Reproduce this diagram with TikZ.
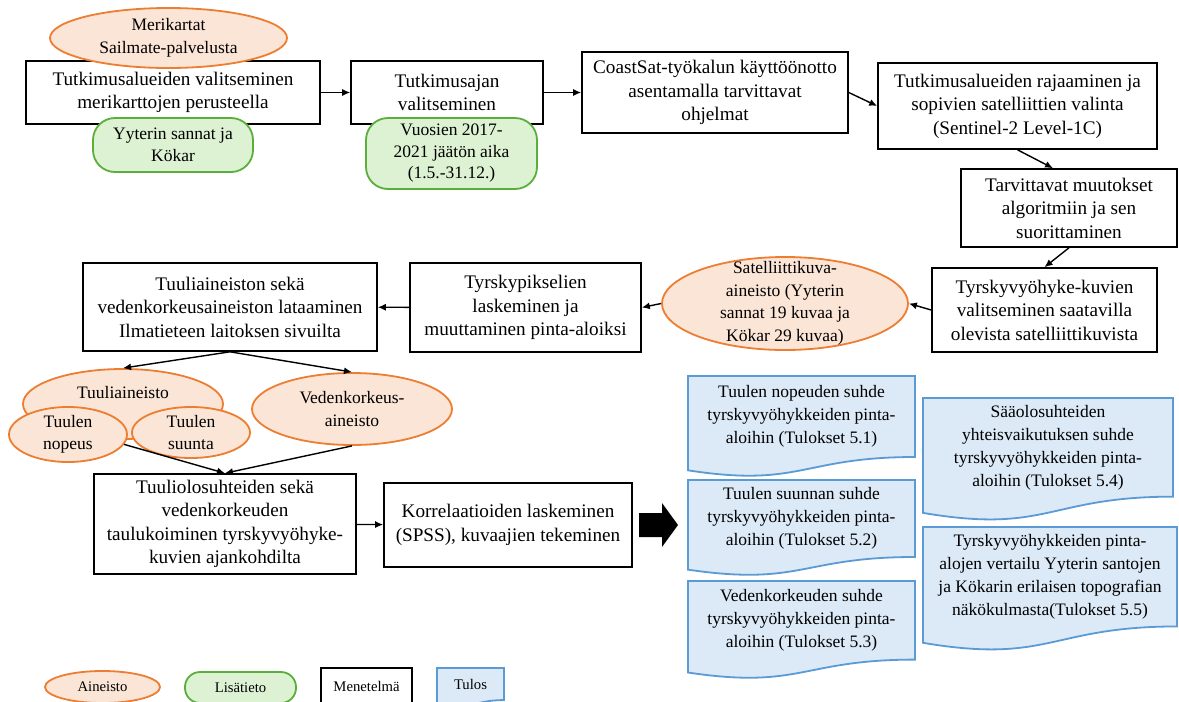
\documentclass[tikz,border=0pt]{standalone}
\usepackage{fontspec}
\setmainfont{Liberation Serif}
\usetikzlibrary{arrows.meta,positioning,shapes.geometric}

\definecolor{aineistoreuna}{HTML}{ED7D31}
\definecolor{aineistotausta}{HTML}{FBE5D6}
\definecolor{lisareuna}{HTML}{5AAE3A}
\definecolor{lisatausta}{HTML}{DCF2D3}
\definecolor{tulosreuna}{HTML}{5B9BD5}
\definecolor{tulostausta}{HTML}{DCE9F7}

% tulos-dokumentti: [tyyli], nimi, vasen x, yla y, leveys, korkeus, teksti
\newcommand{\tulosdoc}[7][]{%
  \draw[tulos] (#3,#4) -- ({#3+#5},#4) -- ({#3+#5},{#4+0.802*#6})
    .. controls ({#3+0.5*#5},{#4+0.802*#6}) and ({#3+0.5*#5},{#4+1.107*#6}) .. (#3,{#4+0.934*#6}) -- cycle;
  \node[tulosteksti,#1] (#2) at ({#3+0.5*#5},{#4+0.401*#6}) {#7};
}

\begin{document}
\begin{tikzpicture}[x=1pt, y=-1pt,
  menetelma/.style={draw, line width=1.6pt, fill=white, align=center, inner sep=0pt, font=\fontsize{19.2}{23.5}\selectfont},
  aineisto/.style={ellipse, draw=aineistoreuna, fill=aineistotausta, line width=1.8pt, align=center, inner sep=-15pt, font=\fontsize{17.5}{22.5}\selectfont},
  lisatieto/.style={draw=lisareuna, fill=lisatausta, line width=1.8pt, rounded corners=22pt, align=center, inner sep=0pt, font=\fontsize{17.5}{21.5}\selectfont},
  tulos/.style={draw=tulosreuna, fill=tulostausta, line width=1.8pt},
  tulosteksti/.style={align=center, font=\fontsize{17.5}{23}\selectfont},
  selite/.style={font=\fontsize{14.7}{17}\selectfont},
  arrow/.style={-{Latex[length=8pt,width=7pt]}, line width=1.4pt}
]
\useasboundingbox (0,0) rectangle (1179,702);

% ylarivi
\node[menetelma, minimum width=294pt, minimum height=63pt] (valinta) at (173,92.5) {Tutkimusalueiden valitseminen\\merikarttojen perusteella};
\node[aineisto, minimum width=237pt, minimum height=60pt] (merikartat) at (168.5,38) {Merikartat\\Sailmate-palvelusta};
\node[lisatieto, minimum width=160pt, minimum height=54pt] (alueet) at (173,145) {Yyterin sannat ja\\Kökar};
\node[menetelma, minimum width=192pt, minimum height=63pt] (aika) at (447,92.5) {Tutkimusajan\\valitseminen};
\node[lisatieto, minimum width=171pt, minimum height=71pt] (vuodet) at (451.5,153.5) {Vuosien 2017-\\2021 jäätön aika\\(1.5.-31.12.)};
\node[menetelma, minimum width=266pt, minimum height=81pt] (coastsat) at (715,92.5) {CoastSat-työkalun käyttöönotto\\asentamalla tarvittavat\\ohjelmat};
\node[menetelma, minimum width=279pt, minimum height=86pt] (rajaus) at (1017.5,106) {Tutkimusalueiden rajaaminen ja\\sopivien satelliittien valinta\\(Sentinel-2 Level-1C)};
\node[menetelma, minimum width=216pt, minimum height=78pt] (muutokset) at (1069,208) {Tarvittavat muutokset\\algoritmiin ja sen\\suorittaminen};
\node[menetelma, minimum width=225pt, minimum height=84pt] (kuvat) at (1044.5,310) {Tyrskyvyöhyke-kuvien\\valitseminen saatavilla\\olevista satelliittikuvista};

% keskirivi
\node[aineisto, minimum width=246pt, minimum height=93pt] (satelliitti) at (785,303.5) {Satelliittikuva-\\aineisto (Yyterin\\sannat 19 kuvaa ja\\Kökar 29 kuvaa)};
\node[menetelma, minimum width=231pt, minimum height=89pt] (pikselit) at (525.5,307.5) {Tyrskypikselien\\laskeminen ja\\muuttaminen pinta-aloiksi};
\node[menetelma, minimum width=294pt, minimum height=88pt] (lataus) at (230,307) {Tuuliaineiston sekä\\vedenkorkeusaineiston lataaminen\\Ilmatieteen laitoksen sivuilta};
\node[aineisto, minimum width=200pt, minimum height=70pt] (tuuli) at (123,404) {Tuuliaineisto\\\mbox{}};
\node[aineisto, minimum width=118pt, minimum height=55pt] (nopeus) at (68,434.5) {Tuulen\\nopeus};
\node[aineisto, minimum width=118pt, minimum height=51pt] (suunta) at (191,432.5) {Tuulen\\suunta};
\node[aineisto, minimum width=200pt, minimum height=72pt] (vesi) at (352,409) {Vedenkorkeus-\\aineisto};

% alarivi
\node[menetelma, minimum width=262pt, minimum height=100pt] (taulukointi) at (225,524) {Tuuliolosuhteiden sekä\\vedenkorkeuden\\taulukoiminen tyrskyvyöhyke-\\kuvien ajankohdilta};
\node[menetelma, minimum width=248pt, minimum height=84pt] (korrelaatio) at (508,525) {Korrelaatioiden laskeminen\\(SPSS), kuvaajien tekeminen};
\coordinate (isokanta) at (639,525);
\fill (isokanta) ++(0,-12) -- ++(23,0) -- ++(0,-10) -- ++(16,22) -- ++(-16,22) -- ++(0,-10) -- ++(-23,0) -- cycle;

% tulokset
\tulosdoc{nopeussuhde}{688}{376}{227}{101}{Tuulen nopeuden suhde\\tyrskyvyöhykkeiden pinta-\\aloihin (Tulokset 5.1)}
\tulosdoc{suuntasuhde}{688}{480}{227}{96}{Tuulen suunnan suhde\\tyrskyvyöhykkeiden pinta-\\aloihin (Tulokset 5.2)}
\tulosdoc{vesisuhde}{688}{581}{227}{98}{Vedenkorkeuden suhde\\tyrskyvyöhykkeiden pinta-\\aloihin (Tulokset 5.3)}
\tulosdoc{yhteis}{923}{398}{250}{123}{Sääolosuhteiden\\yhteisvaikutuksen suhde\\tyrskyvyöhykkeiden pinta-\\aloihin (Tulokset 5.4)}
\tulosdoc{vertailu}{923}{527}{254}{124}{Tyrskyvyöhykkeiden pinta-\\alojen vertailu Yyterin santojen\\ja Kökarin erilaisen topografian\\näkökulmasta(Tulokset 5.5)}

% selitteet
\node[aineisto, selite, minimum width=115pt, minimum height=32pt] (selite1) at (102.5,687) {Aineisto};
\node[lisatieto, selite, rounded corners=15pt, minimum width=111pt, minimum height=31pt] (selite2) at (240.5,687.5) {Lisätieto};
\node[menetelma, selite, line width=2pt, minimum width=91pt, minimum height=36pt] (selite3) at (366.5,686) {Menetelmä};
\tulosdoc[selite]{selite4}{437}{668}{67}{40}{Tulos}

\draw[arrow] (valinta) -- (aika);
\draw[arrow] (aika) -- (coastsat);
\draw[arrow] (coastsat.east) -- (rajaus.west);
\draw[arrow] (rajaus.south) -- ([xshift=-16pt]muutokset.north);
\draw[arrow] (muutokset.south) -- (kuvat.north);
\draw[arrow] (kuvat.west) -- (satelliitti.east);
\draw[arrow] (satelliitti.west) -- (pikselit.east);
\draw[arrow] (pikselit) -- (lataus);
\draw[arrow] (lataus.south) -- (tuuli.north);
\draw[arrow] (lataus.south) -- (vesi.north);
\draw[arrow] (nopeus.-10) -- (taulukointi.north);
\draw[arrow] (vesi.south) -- (taulukointi.north);
\draw[arrow] (taulukointi) -- (korrelaatio);
\end{tikzpicture}
\end{document}
